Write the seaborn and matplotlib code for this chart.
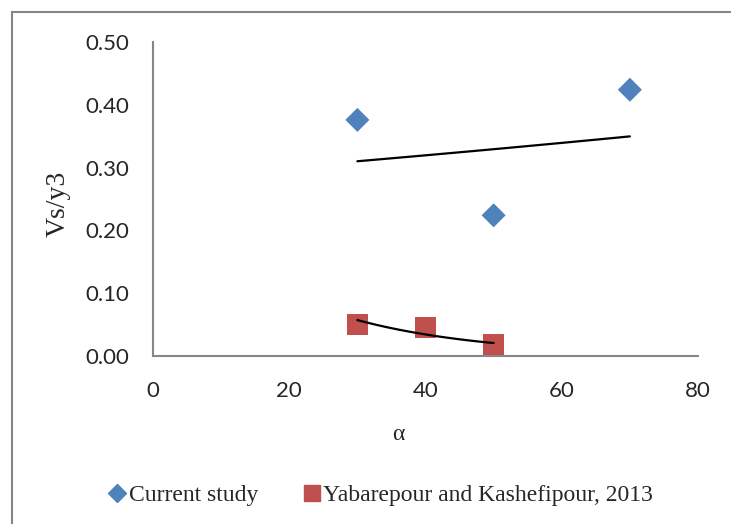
import numpy as np
import pandas as pd
import matplotlib
matplotlib.use("Agg")
import matplotlib.pyplot as plt
from matplotlib.patches import Rectangle
from matplotlib.lines import Line2D
import seaborn as sns

# Measurements
alpha_current = [30, 50, 70]
vs_current = [0.376, 0.224, 0.424]
alpha_yk = [30, 40, 50]
vs_yk = [0.050, 0.045, 0.018]

series_names = ["Current study", "Yabarepour and Kashefipour, 2013"]
x_ticks = [0, 20, 40, 60, 80]
y_ticks = [0.0, 0.1, 0.2, 0.3, 0.4, 0.5]

blue = "#4F81BD"
red = "#C0504D"
grey = "#868686"

df = pd.DataFrame({
    "alpha": alpha_current + alpha_yk,
    "vs": vs_current + vs_yk,
    "series": [series_names[0]] * len(alpha_current) + [series_names[1]] * len(alpha_yk),
})

sns.set_style("white")
W, H = 731, 524
fig = plt.figure(figsize=(W / 100, H / 100), dpi=100)
ax = fig.add_axes([153 / W, 1 - 356 / H, (698 - 153) / W, (356 - 42) / H])

sns.scatterplot(data=df, x="alpha", y="vs", hue="series", style="series",
                palette={series_names[0]: blue, series_names[1]: red},
                markers={series_names[0]: "D", series_names[1]: "s"},
                s=200, linewidth=0, ax=ax, legend=False, zorder=3)
# diamonds drawn a little smaller than squares
ax.collections[0].set_sizes([(150 if s == series_names[0] else 230) for s in df["series"]])

# Exponential trend lines
for xs, ys in [(alpha_current, vs_current), (alpha_yk, vs_yk)]:
    xs = np.asarray(xs, float)
    b, a = np.polyfit(xs, np.log(ys), 1)
    xx = np.linspace(xs.min(), xs.max(), 50)
    ax.plot(xx, np.exp(a + b * xx), color="black", lw=1.6, zorder=4)

ax.set_xlim(0, 80)
ax.set_ylim(0, 0.5)
ax.set_xticks(x_ticks)
ax.set_yticks(y_ticks)
ax.set_xticklabels([str(t) for t in x_ticks])
ax.set_yticklabels([f"{t:.2f}" for t in y_ticks])

for side in ["top", "right"]:
    ax.spines[side].set_visible(False)
for side in ["left", "bottom"]:
    ax.spines[side].set_color(grey)
    ax.spines[side].set_linewidth(1.5)
ax.tick_params(axis="both", which="major", direction="out", length=6, width=1.5,
               color=grey, labelsize=16)
ax.tick_params(axis="y", pad=11)
ax.tick_params(axis="x", pad=12)
for lab in ax.get_xticklabels() + ax.get_yticklabels():
    lab.set_fontfamily("Lato")
ax.set_xlabel("α", fontfamily="Liberation Serif", fontsize=17)
ax.set_ylabel("Vs/y3", fontfamily="Liberation Serif", fontsize=20)
ax.xaxis.set_label_coords((398 - 153) / (698 - 153), -(435 - 356) / (356 - 42), transform=ax.transAxes)
ax.xaxis.label.set_va("center")
ax.yaxis.set_label_coords(-(153 - 58) / (698 - 153), (356 - 204) / (356 - 42), transform=ax.transAxes)
ax.yaxis.label.set_va("center")
ax.grid(False)

handles = [
    Line2D([], [], marker="D", linestyle="none", color=blue, markersize=9),
    Line2D([], [], marker="s", linestyle="none", color=red, markersize=11),
]
fig.legend(handles, series_names, loc="center", bbox_to_anchor=(380 / W, 1 - 495 / H),
           ncol=2, frameon=False, handletextpad=0.05, handlelength=0.9, columnspacing=1.8,
           prop={"family": "Liberation Serif", "size": 17})

fig.patches.append(Rectangle((12 / W, -0.1), 1.2, (H - 12) / H + 0.1,
                             transform=fig.transFigure, fill=False,
                             edgecolor=grey, lw=1.5))

fig.savefig("out.png", dpi=100)
